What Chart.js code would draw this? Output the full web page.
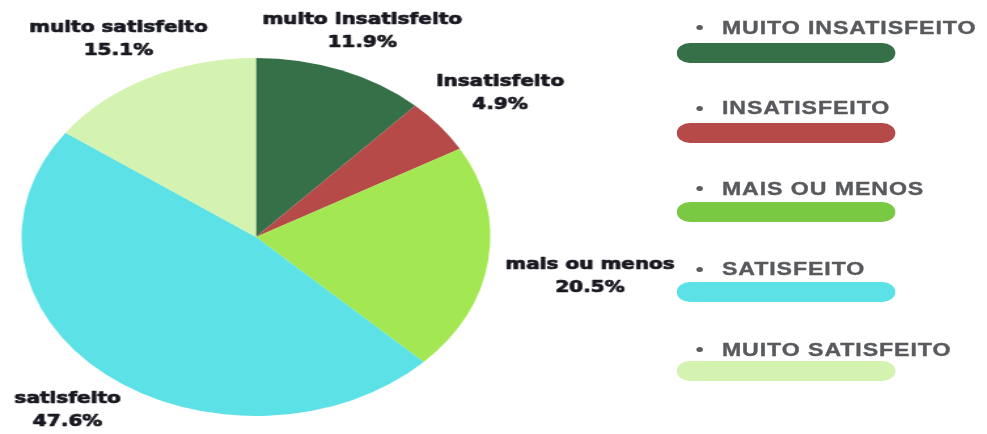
<!DOCTYPE html>
<html>
<head>
<meta charset="utf-8">
<script src="https://cdn.jsdelivr.net/npm/chart.js@4"></script>
<style>
html,body{margin:0;padding:0;background:#fff;width:987px;height:434px;overflow:hidden}
#stage{position:absolute;left:0;top:0;width:754px;height:434px;transform-origin:0 0;transform:scale(1.309,1)}
#c{position:absolute;left:0;top:0}
.lbl{position:absolute;font:bold 17.7px "Liberation Sans",Arial,sans-serif;color:#585a5e;letter-spacing:0.7px;white-space:nowrap;line-height:22px;-webkit-text-stroke:0.35px #585a5e}
.dot{position:absolute;width:5px;height:5px;border-radius:50%;background:#5c5c5c}
.bar{position:absolute;height:20px;border-radius:10px}
</style>
</head>
<body>
<div id="stage">
  <canvas id="c" width="754" height="434"></canvas>
  <div id="legend"></div>
</div>
<script>
// ---- data ----
const categories = ['muito insatisfeito', 'Insatisfeito', 'mais ou menos', 'satisfeito', 'muito satisfeito'];
const legendLabels = ['MUITO INSATISFEITO', 'INSATISFEITO', 'MAIS OU MENOS', 'SATISFEITO', 'MUITO SATISFEITO'];
const percentValues = [11.9, 4.9, 20.5, 47.6, 15.1];
const sliceColors = ['#367048', '#b54a48', '#a3e853', '#5ce1e6', '#d4f2b0'];
const legendColors = ['#367048', '#b54a48', '#7ac943', '#5ce1e6', '#d4f2b0'];

// ---- HTML legend ----
const legend = document.getElementById('legend');
legendLabels.forEach((txt, i) => {
  const yc = 27.5 + 80.5 * i;
  const dot = document.createElement('div');
  dot.className = 'dot';
  dot.style.left = (534.8 - 2.5) + 'px';
  dot.style.top = (yc - 2.5) + 'px';
  legend.appendChild(dot);
  const lbl = document.createElement('div');
  lbl.className = 'lbl';
  lbl.textContent = txt;
  lbl.style.left = '551.5px';
  lbl.style.top = (yc - 10.75) + 'px';
  legend.appendChild(lbl);
  const bar = document.createElement('div');
  bar.className = 'bar';
  bar.style.left = '517px';
  bar.style.width = '167.3px';
  bar.style.top = (43.3 + 79.5 * i) + 'px';
  bar.style.background = legendColors[i];
  legend.appendChild(bar);
});

// ---- slice labels plugin ----
const sliceLabelPlugin = {
  id: 'sliceLabels',
  afterDatasetsDraw(chart) {
    const ctx = chart.ctx;
    const meta = chart.getDatasetMeta(0);
    ctx.save();
    ctx.font = 'bold 15.3px "DejaVu Sans"';
    ctx.fillStyle = '#17171f';
    ctx.strokeStyle = '#17171f';
    ctx.lineWidth = 0.7;
    ctx.lineJoin = 'round';
    ctx.textAlign = 'center';
    ctx.textBaseline = 'middle';
    const lh = 23;
    meta.data.forEach((arc, i) => {
      const p = arc.getProps(['x', 'y', 'startAngle', 'endAngle', 'outerRadius'], true);
      const mid = (p.startAngle + p.endAngle) / 2;
      const c = Math.cos(mid), s = Math.sin(mid);
      const lines = [categories[i], percentValues[i].toFixed(1) + '%'];
      const w = Math.max(...lines.map(l => ctx.measureText(l).width));
      const ax = p.x + c * p.outerRadius * 1.08;
      const ay = p.y + s * p.outerRadius * 1.08;
      const cx = ax + c * w / 2 * 0.8 + Math.sign(c) * (38 * (Math.abs(c) - 0.62) - 2);
      const cy = ay + s * lh + Math.sign(s) * 12 * Math.abs(c);
      lines.forEach((l, k) => {
        ctx.strokeText(l, cx, cy + (k - 0.5) * lh);
        ctx.fillText(l, cx, cy + (k - 0.5) * lh);
      });
    });
    ctx.restore();
  }
};

new Chart(document.getElementById('c'), {
  type: 'pie',
  data: {
    labels: categories,
    datasets: [{
      data: percentValues,
      backgroundColor: sliceColors,
      borderWidth: 0
    }]
  },
  options: {
    responsive: false,
    animation: false,
    events: [],
    layout: { padding: { left: 16, right: 379, top: 58, bottom: 18 } },
    plugins: { legend: { display: false }, tooltip: { enabled: false } }
  },
  plugins: [sliceLabelPlugin]
});
</script>
</body>
</html>
